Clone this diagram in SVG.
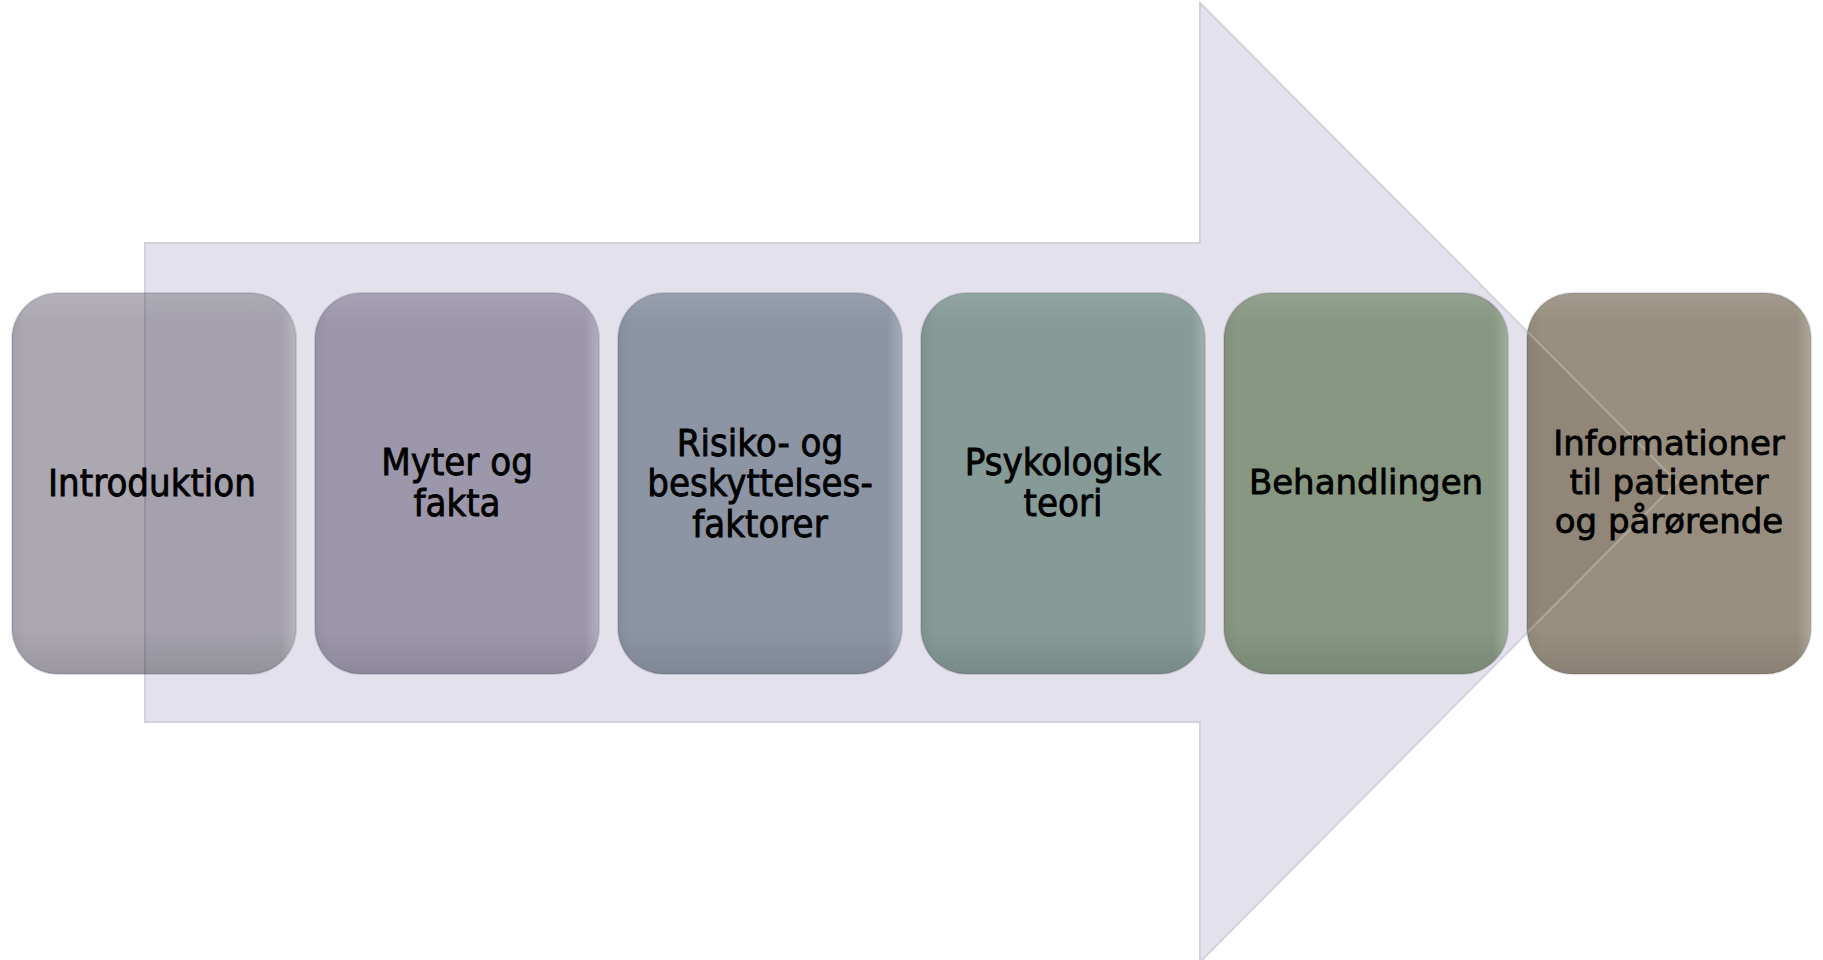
<svg xmlns="http://www.w3.org/2000/svg" width="1823" height="960" viewBox="0 0 1823 960">
<style>
.box{stroke:rgba(60,55,70,0.16);stroke-width:2}
.cond{font-family:'DejaVu Sans Condensed','DejaVu Sans',sans-serif;font-stretch:condensed;font-size:38px;fill:#000;stroke:#000;stroke-width:0.8;text-anchor:middle}
.wide{font-family:'DejaVu Sans',sans-serif;font-size:34px;fill:#000;stroke:#000;stroke-width:0.8;text-anchor:middle}
</style>
<defs>
<linearGradient id="shadeV" x1="0" y1="0" x2="0" y2="1">
<stop offset="0" stop-color="#fff" stop-opacity="0.10"/>
<stop offset="0.08" stop-color="#fff" stop-opacity="0"/>
<stop offset="0.88" stop-color="#000" stop-opacity="0"/>
<stop offset="1" stop-color="#000" stop-opacity="0.10"/>
</linearGradient>
<linearGradient id="shadeH" x1="0" y1="0" x2="1" y2="0">
<stop offset="0" stop-color="#000" stop-opacity="0.05"/>
<stop offset="0.05" stop-color="#000" stop-opacity="0"/>
<stop offset="0.95" stop-color="#fff" stop-opacity="0"/>
<stop offset="1" stop-color="#fff" stop-opacity="0.22"/>
</linearGradient>
<clipPath id="c1"><rect x="12" y="293" width="284" height="381" rx="46"/></clipPath>
<clipPath id="c6"><rect x="1527" y="293" width="284" height="381" rx="46"/></clipPath>
<polygon id="arrowShape" points="145,243 1200,243 1200,3 1677,482 1200,962 1200,722 145,722"/>
</defs>
<rect width="1823" height="960" fill="#fff"/>
<g id="arrow">
<use href="#arrowShape" fill="#e3e1ec" stroke="#d3d2dc" stroke-width="2"/>
</g>
<g id="node1">
<rect class="box" x="12" y="293" width="284" height="381" rx="46" fill="#aca8b2"/>
<g clip-path="url(#c1)"><use href="#arrowShape" fill="#4a4060" fill-opacity="0.07" stroke="#6a6478" stroke-opacity="0.3" stroke-width="2"/></g>
<rect x="12" y="293" width="284" height="381" rx="46" fill="url(#shadeV)"/>
<rect x="12" y="293" width="284" height="381" rx="46" fill="url(#shadeH)"/>
<text class="cond" x="152" y="496">Introduktion</text>
</g>
<g id="node2">
<rect class="box" x="315" y="293" width="284" height="381" rx="46" fill="#9d97ac"/>
<rect x="315" y="293" width="284" height="381" rx="46" fill="url(#shadeV)"/>
<rect x="315" y="293" width="284" height="381" rx="46" fill="url(#shadeH)"/>
<text class="cond" x="457" y="475">Myter og</text>
<text class="cond" x="457" y="516">fakta</text>
</g>
<g id="node3">
<rect class="box" x="618" y="293" width="284" height="381" rx="46" fill="#8d95a5"/>
<rect x="618" y="293" width="284" height="381" rx="46" fill="url(#shadeV)"/>
<rect x="618" y="293" width="284" height="381" rx="46" fill="url(#shadeH)"/>
<text class="cond" x="760" y="456">Risiko- og</text>
<text class="cond" x="760" y="496">beskyttelses-</text>
<text class="cond" x="760" y="537">faktorer</text>
</g>
<g id="node4">
<rect class="box" x="921" y="293" width="284" height="381" rx="46" fill="#869a97"/>
<rect x="921" y="293" width="284" height="381" rx="46" fill="url(#shadeV)"/>
<rect x="921" y="293" width="284" height="381" rx="46" fill="url(#shadeH)"/>
<text class="cond" x="1063" y="475">Psykologisk</text>
<text class="cond" x="1063" y="516">teori</text>
</g>
<g id="node5">
<rect class="box" x="1224" y="293" width="284" height="381" rx="46" fill="#879782"/>
<rect x="1224" y="293" width="284" height="381" rx="46" fill="url(#shadeV)"/>
<rect x="1224" y="293" width="284" height="381" rx="46" fill="url(#shadeH)"/>
<text class="wide" x="1366" y="494">Behandlingen</text>
</g>
<g id="node6">
<rect class="box" x="1527" y="293" width="284" height="381" rx="46" fill="#988f80"/>
<g clip-path="url(#c6)"><use href="#arrowShape" fill="#3a3020" fill-opacity="0.08" stroke="#fff" stroke-opacity="0.25" stroke-width="2"/></g>
<rect x="1527" y="293" width="284" height="381" rx="46" fill="url(#shadeV)"/>
<rect x="1527" y="293" width="284" height="381" rx="46" fill="url(#shadeH)"/>
<text class="wide" x="1669" y="455">Informationer</text>
<text class="wide" x="1669" y="494">til patienter</text>
<text class="wide" x="1669" y="533">og pårørende</text>
</g>
</svg>
